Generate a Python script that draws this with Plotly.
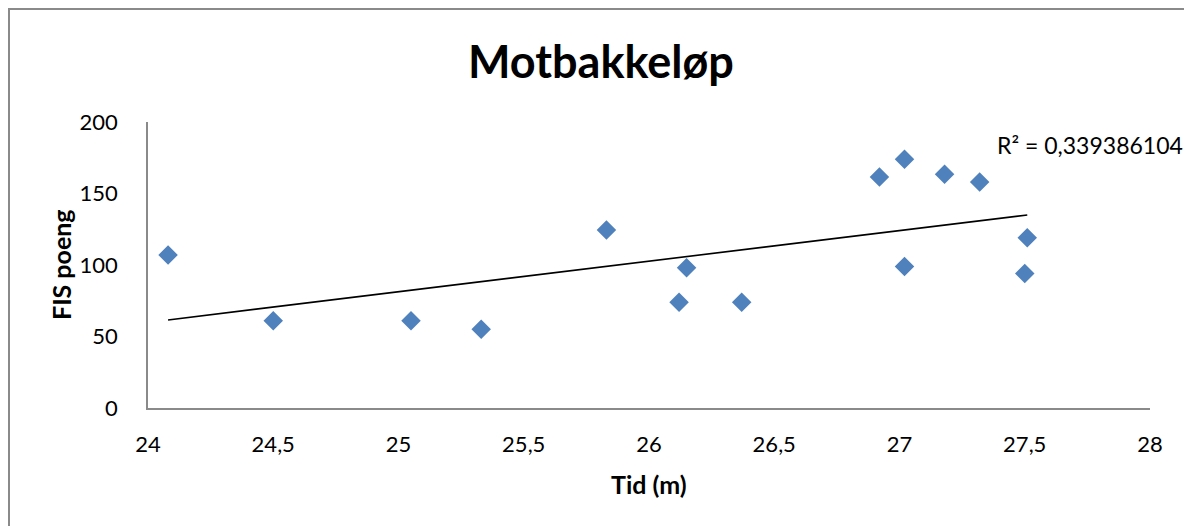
import numpy as np
import plotly.graph_objects as go

tid = [24.08, 24.50, 25.05, 25.33, 25.83, 26.12, 26.15, 26.37, 26.92, 27.02, 27.02, 27.18, 27.32, 27.50, 27.51]
fis = [107, 61, 61, 55, 124.5, 74, 98, 74, 161.5, 174, 99, 163.5, 158, 94, 119]
r2_text = "R² = 0,339386104"
title_text = "Motbakkeløp"
x_title = "Tid (m)"
y_title = "FIS poeng"

slope, intercept = np.polyfit(tid, fis, 1)
trend_x = [min(tid), max(tid)]
trend_y = [slope * v + intercept for v in trend_x]

FONT = "Lato"

fig = go.Figure()
fig.add_trace(go.Scatter(
    x=tid, y=fis, mode="markers",
    marker=dict(symbol="diamond", size=15, color="#4F81BD", line=dict(width=0)),
    showlegend=False, hoverinfo="x+y",
))
fig.add_trace(go.Scatter(
    x=trend_x, y=trend_y, mode="lines",
    line=dict(color="black", width=1.6),
    showlegend=False, hoverinfo="skip",
))

L, R, T, B = 148, 34, 122, 118
W, H = 1184, 526
pw, ph = W - L - R, H - T - B

fig.update_layout(
    width=W, height=H,
    margin=dict(l=L, r=R, t=T, b=B),
    paper_bgcolor="white", plot_bgcolor="white",
    separators=", ",
    font=dict(family=FONT, color="black", size=22),
    title=dict(text=f"<b>{title_text}</b>", x=601 / W, xref="container", xanchor="center",
               y=1 - 62 / H, yref="container", yanchor="middle",
               font=dict(family=FONT, size=45, color="black")),
    xaxis=dict(range=[24, 28], dtick=0.5, tick0=24, showgrid=False, zeroline=False,
               showline=True, linecolor="#8a8a8a", linewidth=1.5,
               ticks="", ticklabelstandoff=16, tickfont=dict(size=22)),
    yaxis=dict(range=[0, 200], dtick=50, showgrid=False, zeroline=False,
               showline=True, linecolor="#8a8a8a", linewidth=1.5,
               ticks="", ticklabelstandoff=24, tickfont=dict(size=22)),
    annotations=[
        dict(text=f"<b>{x_title}</b>", xref="paper", yref="paper",
             x=(649 - L) / pw, y=(408 - 484) / ph, xanchor="center", yanchor="middle",
             showarrow=False, font=dict(size=25, family=FONT)),
        dict(text=f"<b>{y_title}</b>", xref="paper", yref="paper", textangle=-90,
             x=(61 - L) / pw, y=0.5, xanchor="center", yanchor="middle",
             showarrow=False, font=dict(size=25, family=FONT)),
        dict(text=r2_text, xref="paper", yref="paper",
             x=(995 - L) / pw, y=(408 - 145) / ph, xanchor="left", yanchor="middle",
             showarrow=False, font=dict(size=23, family=FONT)),
    ],
    shapes=[
        dict(type="rect", xref="paper", yref="paper",
             x0=(9 - L) / pw, x1=(1300 - L) / pw, y0=(408 - 700) / ph, y1=(408 - 9) / ph,
             line=dict(color="#8a8a8a", width=2), fillcolor="rgba(0,0,0,0)", layer="below"),
    ],
)

fig.write_html("out.html")
